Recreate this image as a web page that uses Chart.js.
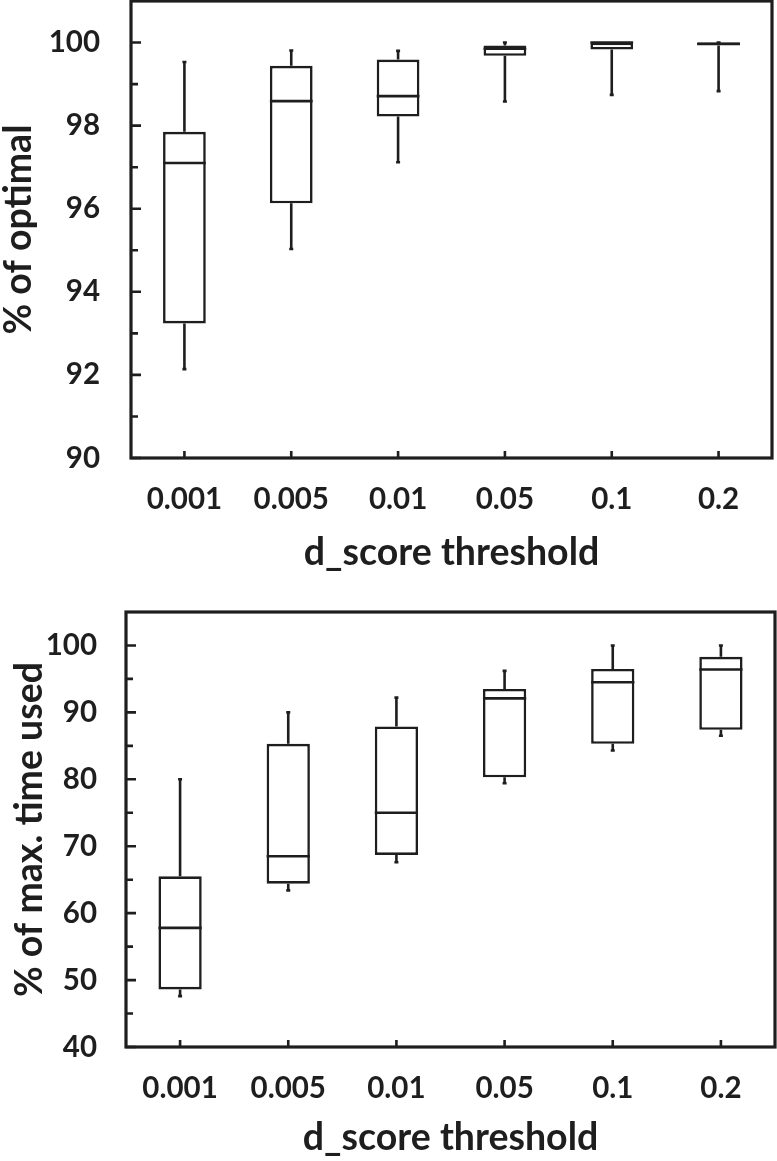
<!DOCTYPE html>
<html>
<head>
<meta charset="utf-8">
<script src="https://cdn.jsdelivr.net/npm/chart.js@4"></script>
<style>
  html, body { margin: 0; padding: 0; background: #fff; }
  body { width: 777px; height: 1161px; position: relative; overflow: hidden; }
  canvas { position: absolute; left: 0; }
  #chartOpt { top: 0; }
  #chartTime { top: 580px; }
</style>
</head>
<body>
<canvas id="chartOpt" width="777" height="580"></canvas>
<canvas id="chartTime" width="777" height="581"></canvas>
<script>
// ----------------- datos -----------------
const categories = ["0.001", "0.005", "0.01", "0.05", "0.1", "0.2"];

// % of optimal
const optMin = [92.14, 95.03, 97.12, 98.58, 98.74, 98.83];
const optQ1 = [93.24, 96.13, 98.22, 99.68, 99.83, 99.93];
const optMed = [97.1, 98.59, 98.71, 99.85, 100.0, 99.97];
const optQ3 = [97.85, 99.44, 99.59, 99.93, 100.0, 100.0];
const optMax = [99.53, 99.81, 99.8, 100.0, 100.0, 100.0];

// % of max. time used
const timeMin = [47.6, 63.4, 67.6, 79.4, 84.3, 86.5];
const timeQ1 = [48.6, 64.4, 68.7, 80.3, 85.3, 87.4];
const timeMed = [57.8, 68.5, 75.0, 92.1, 94.5, 96.4];
const timeQ3 = [65.5, 85.3, 87.9, 93.5, 96.5, 98.3];
const timeMax = [80.0, 90.0, 92.2, 96.2, 100.0, 100.0];

const INK = "#1e1e1e";
const FONT = "Lato";
const LINE = 2.6;

// ----------------- plugins -----------------
// whiskers + mediana, sobre las barras flotantes
const boxPlugin = {
  id: "boxExtras",
  afterDatasetsDraw(chart, args, opts) {
    const ctx = chart.ctx;
    const y = chart.scales.y;
    const meta = chart.getDatasetMeta(0);
    ctx.save();
    ctx.strokeStyle = INK;
    ctx.lineWidth = LINE;
    meta.data.forEach((bar, i) => {
      const x = bar.x;
      const half = bar.width / 2;
      const yMin = y.getPixelForValue(opts.min[i]);
      const yMax = y.getPixelForValue(opts.max[i]);
      const yQ1 = y.getPixelForValue(opts.q1[i]);
      const yQ3 = y.getPixelForValue(opts.q3[i]);
      const yMed = y.getPixelForValue(opts.med[i]);
      ctx.beginPath();
      ctx.moveTo(x, yQ3);
      ctx.lineTo(x, yMax);
      ctx.moveTo(x, yQ1);
      ctx.lineTo(x, yMin);
      // caps pequeños
      ctx.moveTo(x - 2, yMax);
      ctx.lineTo(x + 2, yMax);
      ctx.moveTo(x - 2, yMin);
      ctx.lineTo(x + 2, yMin);
      // mediana
      ctx.moveTo(x - half, yMed);
      ctx.lineTo(x + half, yMed);
      ctx.stroke();
    });
    ctx.restore();
  },
};

// marco + ticks hacia dentro
const framePlugin = {
  id: "frameTicks",
  afterDraw(chart, args, opts) {
    const ctx = chart.ctx;
    const a = chart.chartArea;
    const y = chart.scales.y;
    const x = chart.scales.x;
    ctx.save();
    ctx.strokeStyle = INK;
    ctx.lineWidth = LINE;
    ctx.beginPath();
    y.ticks.forEach((t) => {
      if (t.value >= y.max) return;
      const py = y.getPixelForValue(t.value);
      const len = t.value % opts.major === 0 ? 10 : 7;
      ctx.moveTo(a.left, py);
      ctx.lineTo(a.left + len, py);
    });
    categories.forEach((c, i) => {
      const px = x.getPixelForValue(i);
      ctx.moveTo(px, a.bottom);
      ctx.lineTo(px, a.bottom - 7);
    });
    ctx.stroke();
    ctx.lineWidth = 3.2;
    ctx.strokeRect(a.left, a.top, a.right - a.left, a.bottom - a.top);
    ctx.restore();
  },
};

// ----------------- charts -----------------
function makeBoxChart(id, cfg) {
  const ctx = document.getElementById(id).getContext("2d");
  const ranges = cfg.q1.map((v, i) => [v, cfg.q3[i]]);
  return new Chart(ctx, {
    type: "bar",
    data: {
      labels: categories,
      datasets: [
        {
          data: ranges,
          backgroundColor: "#ffffff",
          borderColor: INK,
          borderWidth: LINE,
          borderSkipped: false,
          barPercentage: 0.4,
          categoryPercentage: 1.0,
        },
      ],
    },
    options: {
      animation: false,
      responsive: false,
      maintainAspectRatio: false,
      layout: { padding: cfg.padding },
      plugins: {
        legend: { display: false },
        tooltip: { enabled: false },
        boxExtras: { min: cfg.min, q1: cfg.q1, med: cfg.med, q3: cfg.q3, max: cfg.max },
        frameTicks: { major: cfg.major },
      },
      scales: {
        x: {
          grid: { display: false, drawTicks: false },
          border: { display: false },
          ticks: {
            color: INK,
            padding: cfg.xPad,
            font: { family: FONT, size: 29.5, weight: "bold" },
          },
          title: {
            display: true,
            text: "d_score threshold",
            color: INK,
            font: { family: FONT, size: 37.5, weight: "bold", lineHeight: 1 },
            padding: { top: 0, bottom: cfg.xTitlePad },
          },
          afterFit(s) {
            s.height = cfg.xHeight;
            s.paddingLeft = 0;
            s.paddingRight = 0;
          },
        },
        y: {
          min: cfg.yMin,
          max: cfg.yMax,
          grid: { display: false, drawTicks: false },
          border: { display: false },
          ticks: {
            stepSize: cfg.step,
            autoSkip: false,
            color: INK,
            padding: cfg.yPad,
            font: { family: FONT, size: 29.5, weight: "bold" },
            callback: (v) => (v % cfg.major === 0 && v < cfg.yMax ? v : ""),
          },
          title: {
            display: true,
            text: cfg.yTitle,
            color: INK,
            font: { family: FONT, size: 37.5, weight: "bold", lineHeight: 1 },
            padding: { top: cfg.yTitlePad, bottom: 0 },
          },
          afterFit(s) {
            s.width = cfg.yWidth;
            s.paddingTop = 0;
            s.paddingBottom = 0;
          },
        },
      },
    },
    plugins: [boxPlugin, framePlugin],
  });
}

function init() {
  makeBoxChart("chartOpt", {
    min: optMin, q1: optQ1, med: optMed, q3: optQ3, max: optMax,
    yMin: 90, yMax: 101, step: 1, major: 2,
    yTitle: "% of optimal",
    padding: { top: 1, right: 5, left: 0, bottom: 0 },
    yWidth: 131, xHeight: 122,
    yPad: 31, xPad: 24,
    yTitlePad: 0, xTitlePad: 8,
  });
  makeBoxChart("chartTime", {
    min: timeMin, q1: timeQ1, med: timeMed, q3: timeQ3, max: timeMax,
    yMin: 40, yMax: 105, step: 5, major: 10,
    yTitle: "% of max. time used",
    padding: { top: 32, right: 2, left: 0, bottom: 0 },
    yWidth: 126, xHeight: 114,
    yPad: 29, xPad: 24,
    yTitlePad: 11, xTitlePad: 4,
  });
}

window.addEventListener("DOMContentLoaded", init);
</script>
</body>
</html>
